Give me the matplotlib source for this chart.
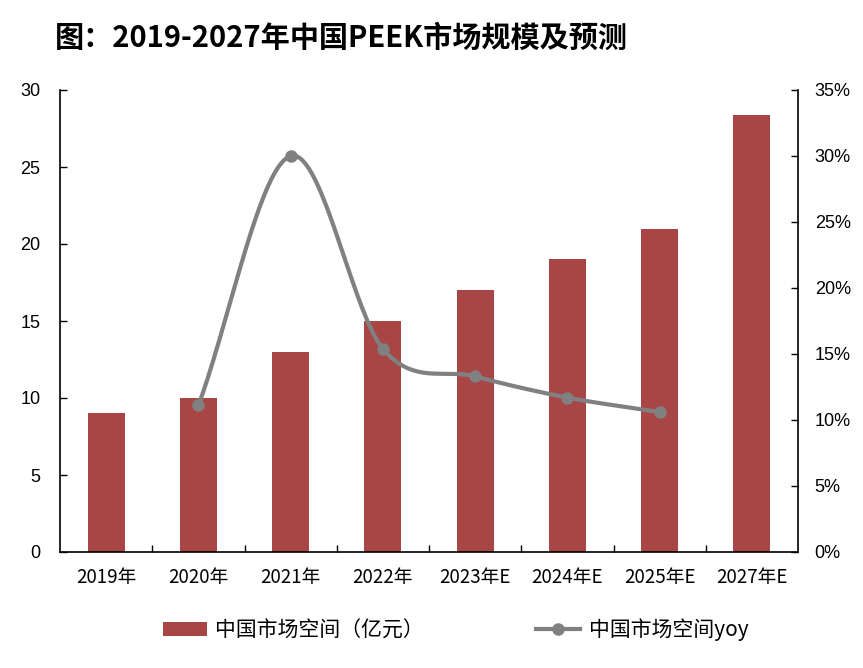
import numpy as np
import matplotlib
matplotlib.use('Agg')
import matplotlib.pyplot as plt
from matplotlib.ticker import FuncFormatter, FixedLocator

plt.rcParams['font.family'] = ['Noto Sans CJK SC', 'DejaVu Sans']

categories = ['2019年', '2020年', '2021年', '2022年', '2023年E', '2024年E', '2025年E', '2027年E']
market_size = [9, 10, 13, 15, 17, 19, 21, 28.4]
yoy_idx = [1, 2, 3, 4, 5, 6]
yoy = [11.1, 30.0, 15.4, 13.3, 11.7, 10.6]

bar_color = '#A84646'
line_color = '#808080'


def smooth(xs, ys, n=40):
    """Catmull-Rom curve through the points, like Excel's smoothed line."""
    xs = np.asarray(xs, float)
    ys = np.asarray(ys, float)
    px = np.concatenate([[2 * xs[0] - xs[1]], xs, [2 * xs[-1] - xs[-2]]])
    py = np.concatenate([[2 * ys[0] - ys[1]], ys, [2 * ys[-1] - ys[-2]]])
    outx, outy = [], []
    t = np.linspace(0, 1, n)
    for i in range(1, len(px) - 2):
        for p, out in ((px, outx), (py, outy)):
            p0, p1, p2, p3 = p[i - 1], p[i], p[i + 1], p[i + 2]
            out.extend(0.5 * ((2 * p1) + (-p0 + p2) * t
                              + (2 * p0 - 5 * p1 + 4 * p2 - p3) * t ** 2
                              + (-p0 + 3 * p1 - 3 * p2 + p3) * t ** 3))
    return np.array(outx), np.array(outy)


fig = plt.figure(figsize=(8.63, 6.68), dpi=100)
ax = fig.add_axes([60 / 863, 1 - 552 / 668, 738 / 863, 462 / 668])
x = np.arange(len(categories))
bars = ax.bar(x, market_size, width=0.4, color=bar_color, zorder=2,
              label='中国市场空间（亿元）')
ax.set_xlim(-0.5, 7.5)
ax.set_ylim(0, 30)
ax.set_yticks(range(0, 31, 5))
ax.set_xticks(x)
ax.set_xticklabels(categories, fontsize=13.5)
ax.xaxis.set_minor_locator(FixedLocator(np.arange(0.5, 7.5, 1)))
ax.tick_params(axis='x', which='major', length=0, pad=11)
ax.tick_params(axis='x', which='minor', direction='in', length=5, width=1)
ax.tick_params(axis='y', direction='in', length=5, width=1, labelsize=13, pad=14)
for lab in ax.get_yticklabels():
    lab.set_family(['Liberation Sans', 'DejaVu Sans'])
for s in ['top', 'right']:
    ax.spines[s].set_visible(False)
for s in ['left', 'bottom']:
    ax.spines[s].set_linewidth(1.2)

ax2 = ax.twinx()
ax2.set_ylim(0, 35)
ax2.set_yticks(range(0, 36, 5))
ax2.yaxis.set_major_formatter(FuncFormatter(lambda v, p: f'{v:.0f}%'))
ax2.tick_params(axis='y', direction='in', length=5, width=1, labelsize=13, pad=12)
for lab in ax2.get_yticklabels():
    lab.set_family(['Liberation Sans', 'DejaVu Sans'])
for s in ['top', 'left', 'bottom']:
    ax2.spines[s].set_visible(False)
ax2.spines['right'].set_linewidth(1.2)

sx, sy = smooth(yoy_idx, yoy)
ax2.plot(sx, sy, color=line_color, lw=3, zorder=3)
ax2.plot(yoy_idx, yoy, 'o', color=line_color, ms=8, zorder=4)
line_handle = plt.Line2D([], [], color=line_color, lw=3, marker='o', ms=8)

fig.legend([bars, line_handle], ['中国市场空间（亿元）', '中国市场空间yoy'],
           loc='center', bbox_to_anchor=(0.528, 1 - 630 / 668), ncol=2,
           frameon=False, fontsize=15, columnspacing=5.4, handlelength=2.1,
           handletextpad=0.4)

fig.text(55 / 863, 1 - 38 / 668, '图：2019-2027年中国PEEK市场规模及预测',
         fontsize=21, fontweight='bold', va='center', ha='left')

fig.savefig('out.png', dpi=100)
